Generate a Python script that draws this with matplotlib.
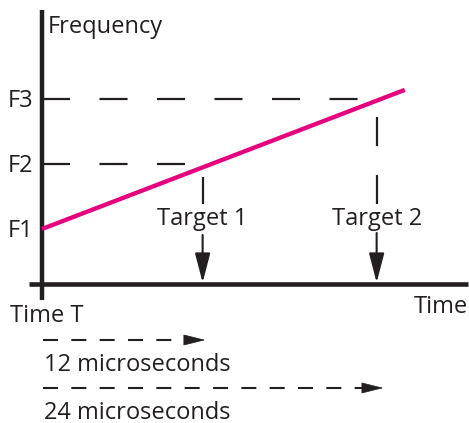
import matplotlib
matplotlib.use("Agg")
import matplotlib.pyplot as plt
from matplotlib.patches import ArrowStyle

plt.rcParams['font.family'] = ['Open Sans', 'DejaVu Sans']
plt.rcParams['lines.scale_dashes'] = False

# data (time in microseconds, frequency in arbitrary units)
freq_levels = [1, 2, 3]
freq_labels = ['F1', 'F2', 'F3']
chirp_t = [0, 27.1]
chirp_f = [1.0, 3.14]
target_t = [12, 25]
target_f = [2, 3]
target_labels = ['Target 1', 'Target 2']
span_end = [12.2, 25.5]
span_labels = ['12 microseconds', '24 microseconds']

ink = '#231f20'
pink = '#e6007e'
base_f = 0.146
fs = 17

fig = plt.figure(figsize=(4.69, 4.23), dpi=100)
ax = fig.add_axes([0, 0, 1, 1])
ax.set_xlim(-3.138, 31.90)
ax.set_ylim(-1.985, 4.523)
ax.axis('off')

# axes lines
ax.plot([0, 0], [-0.092, 4.369], color=ink, lw=3.2, solid_capstyle='butt')
ax.plot([-0.97, 31.83], [base_f, base_f], color=ink, lw=3.3, solid_capstyle='butt')

# horizontal guides to the F levels
guide_end = [None, 10.68, 23.61]
for lvl, end in zip(freq_levels, guide_end):
    if end is not None:
        ax.plot([0, end], [lvl, lvl], color=ink, lw=1.6,
                linestyle=(0, (20.2, 21.2)), dash_capstyle='butt')

# chirp
ax.plot(chirp_t, chirp_f, color=pink, lw=3.1, solid_capstyle='butt')

# vertical guides and arrows to targets
vtop = [1.8, 2.723]
arrow_top = [0.908, 0.938]
for t, top, atop, lab in zip(target_t, vtop, arrow_top, target_labels):
    ax.plot([t, t], [top, 1.38], color=ink, lw=1.6,
            linestyle=(0, (20.9, 20.9)), dash_capstyle='butt')
    ax.text(t, 1.06, lab, ha='center', va='baseline', fontsize=fs, color=ink)
    ax.annotate('', xy=(t, base_f + 0.03), xytext=(t, atop),
                arrowprops=dict(arrowstyle=ArrowStyle('-|>', head_length=18, head_width=4.7),
                                mutation_scale=1, color=ink, lw=1.5,
                                shrinkA=0, shrinkB=0))

# labels
ax.text(0.45, 4.015, 'Frequency', ha='left', va='baseline', fontsize=fs, color=ink)
for lvl, lab in zip(freq_levels, freq_labels):
    ax.text(-0.67, lvl - 0.123, lab, ha='right', va='baseline', fontsize=fs, color=ink)
ax.text(-2.39, -0.431, 'Time T', ha='left', va='baseline', fontsize=fs, color=ink)
ax.text(31.83, -0.292, 'Time', ha='right', va='baseline', fontsize=fs, color=ink)

# duration arrows
span_f = [-0.708, -1.446]
label_f = [-1.185, -1.923]
head = 1.49
for end, sf, lf, lab in zip(span_end, span_f, label_f, span_labels):
    ax.plot([0.1, end - head], [sf, sf], color=ink, lw=1.5,
            linestyle=(0, (10.8, 9.6)), dash_capstyle='butt')
    ax.annotate('', xy=(end, sf), xytext=(end - head, sf),
                arrowprops=dict(arrowstyle=ArrowStyle('-|>', head_length=14.4, head_width=3.6),
                                mutation_scale=1, color=ink, lw=0.5,
                                shrinkA=0, shrinkB=0))
    ax.text(0.15, lf, lab, ha='left', va='baseline', fontsize=fs, color=ink)

fig.savefig('out.png', dpi=100)
